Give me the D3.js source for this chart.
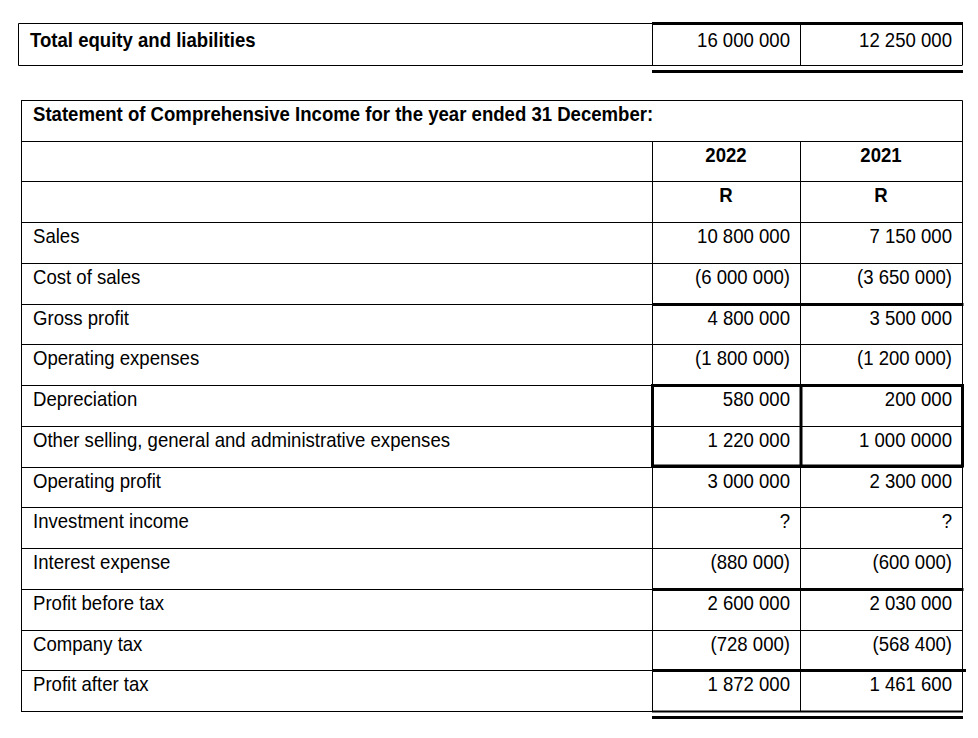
<!DOCTYPE html>
<html><head><meta charset="utf-8">
<script src="https://cdn.jsdelivr.net/npm/d3@7"></script>
<style>
html,body{margin:0;padding:0;background:#fff;}
svg{display:block;}
text{font-family:"Liberation Sans Narrow","Arial Narrow","Liberation Sans",Arial,sans-serif;fill:#000;}
</style></head>
<body>
<svg id="c" width="978" height="738"></svg>
<script>
// ---- data ----
const totalLabel = "Total equity and liabilities";
const totalValues = ["16 000 000", "12 250 000"];
const title = "Statement of Comprehensive Income for the year ended 31 December:";
const years = ["2022", "2021"];
const currency = ["R", "R"];
const items = ["Sales","Cost of sales","Gross profit","Operating expenses","Depreciation",
  "Other selling, general and administrative expenses","Operating profit","Investment income",
  "Interest expense","Profit before tax","Company tax","Profit after tax"];
const values2022 = ["10 800 000","(6 000 000)","4 800 000","(1 800 000)","580 000","1 220 000",
  "3 000 000","?","(880 000)","2 600 000","(728 000)","1 872 000"];
const values2021 = ["7 150 000","(3 650 000)","3 500 000","(1 200 000)","200 000","1 000 0000",
  "2 300 000","?","(600 000)","2 030 000","(568 400)","1 461 600"];

// ---- layout ----
const svg = d3.select("#c");
const FS = 21, SX = 0.885;
const L = 21, C1 = 652, C2 = 800, R = 962;
const rowKeys = ["title","years","cur"].concat(items);
const y = d3.scaleBand().domain(rowKeys).range([100, 711]).paddingInner(0).paddingOuter(0);
const col = d3.scaleOrdinal().domain(years).range([[C1, C2], [C2, R]]);

function line(x1, y1, x2, y2, w) {
  svg.append("line").attr("x1", x1).attr("y1", y1).attr("x2", x2).attr("y2", y2)
    .attr("stroke", "#000").attr("stroke-width", w || 1);
}
function txt(x, yv, s, anchor, bold) {
  const t = svg.append("text").attr("transform", `translate(${x},${yv}) scale(${SX},1)`)
    .attr("font-size", FS).attr("text-anchor", anchor || "start").text(s);
  if (bold) t.attr("font-weight", "bold");
  return t;
}

// ---- top table ----
const tTop = 23.5, tBot = 65.5, tL = 18.5;
line(tL, tTop, C1, tTop, 1);
line(C1, 23.5, R + 1, 23.5, 3);
line(tL, tBot, R, tBot, 1);
line(C1, 71.5, R + 1, 71.5, 3);
line(tL, tTop, tL, tBot, 1);
line(C1 + 0.5, tTop, C1 + 0.5, tBot, 1);
line(C2 + 0.5, tTop, C2 + 0.5, tBot, 1);
line(R + 0.5, tTop, R + 0.5, tBot, 1);
txt(30, 47, totalLabel, "start", true);
years.forEach((yr, i) => txt(col(yr)[1] - 10, 47, totalValues[i], "end"));

// ---- statement table: grid ----
const yy = k => Math.round(y(k)) + 0.5;
line(L, 100.5, R + 0.5, 100.5, 1);
rowKeys.forEach(k => { if (k !== "title") line(L, yy(k), R + 0.5, yy(k), 1); });
line(L + 0.5, 100.5, L + 0.5, 711.5, 1);
line(R + 0.5, 100.5, R + 0.5, 711.5, 1);
line(C1 + 0.5, yy("years"), C1 + 0.5, 711.5, 1);
line(C2 + 0.5, yy("years"), C2 + 0.5, 711.5, 1);
line(L, 711.5, C1, 711.5, 1);

// thick rules
const yb = k => y(k) + y.bandwidth();
line(C1, Math.round(yb("Cost of sales")) + 0.5, R + 1.5, Math.round(yb("Cost of sales")) + 0.5, 3);
line(C1, Math.round(yb("Interest expense")) + 0.5, R + 1.5, Math.round(yb("Interest expense")) + 0.5, 3);
line(C1, Math.round(yb("Company tax")) + 0.5, R + 4, Math.round(yb("Company tax")) + 0.5, 3);
line(C1, 711.5, R + 1, 711.5, 2);
line(C1, 717.5, R + 1, 717.5, 3);
// box around Depreciation / Other SG&A
const bTop = Math.round(y("Depreciation")) + 0.5, bBot = Math.round(yb(items[5])) - 1;
svg.append("rect").attr("x", C1 + 0.5).attr("y", bTop).attr("width", R - C1).attr("height", bBot - bTop)
  .attr("fill", "none").attr("stroke", "#000").attr("stroke-width", 3);
line(C2 + 1, bTop, C2 + 1, bBot, 3);

// ---- statement table: text ----
txt(33, y("title") + 21, title, "start", true);
years.forEach((yr, i) => {
  const c = col(yr), cx = (c[0] + c[1]) / 2;
  txt(cx, y("years") + 21, yr, "middle", true);
  txt(cx, y("cur") + 21, currency[i], "middle", true);
});
const cols = [values2022, values2021];
items.forEach((it, r) => {
  txt(33, y(it) + 21, it, "start");
  years.forEach((yr, i) => txt(col(yr)[1] - 10, y(it) + 21, cols[i][r], "end"));
});
</script>
</body></html>
